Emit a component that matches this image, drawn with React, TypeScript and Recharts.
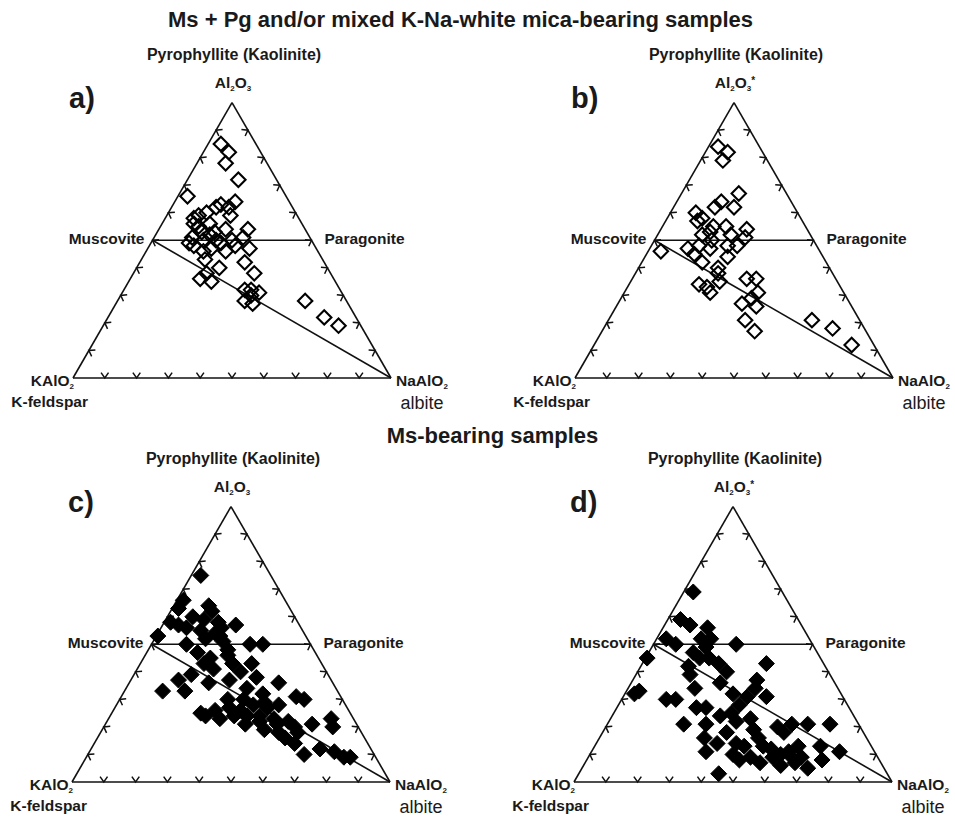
import React from 'react';
import { ScatterChart, Scatter, XAxis, YAxis, ReferenceLine, ReferenceDot } from 'recharts';

const FONT = '"Liberation Sans", Arial, Helvetica, sans-serif';

// Ternary compositions, [Al2O3 %, NaAlO2 %]; KAlO2 % = 100 - Al2O3 - NaAlO2
const panelA: [number, number][] = [
  [85, 4], [82, 8], [78, 9], [72, 16], [66, 3], [64, 19], [63, 15], [62, 14], [59, 20], [59, 10],
  [60, 12], [56, 10], [56, 15], [54, 21], [54, 28], [51, 28], [51, 12], [50, 16], [50, 20], [50, 25],
  [48, 14], [47, 20], [46, 25], [47, 32], [43, 20], [40, 26], [42, 33], [38, 38], [38, 23], [36, 22],
  [35, 26], [32, 38], [32, 40], [31, 43], [28, 40], [27, 43], [30, 41], [28, 59], [22, 68], [19, 74],
  [58, 9], [62, 18], [53, 14], [53, 18], [49, 12], [48, 27], [46, 18], [55, 12], [52, 17], [49, 22],
];
const panelB: [number, number][] = [
  [84, 3], [82, 7], [79, 7], [67, 18], [64, 14], [62, 13], [62, 19], [60, 8], [58, 11], [57, 10],
  [55, 16], [55, 20], [54, 27], [52, 23], [51, 28], [52, 14], [50, 18], [47, 12], [48, 15], [45, 15],
  [47, 19], [48, 24], [44, 26], [42, 19], [40, 25], [38, 26], [46, 4], [34, 22], [31, 27], [33, 25],
  [35, 28], [36, 36], [36, 39], [31, 42], [27, 39], [29, 41], [26, 44], [21, 43], [17, 48], [21, 64],
  [18, 72], [12, 81], [53, 16], [48, 27],
];
const panelC: [number, number][] = [
  [75, 3], [66, 2], [63, 2], [58, 2], [53, 0.5], [62, 13], [59, 12], [60, 8], [58, 17], [56, 8],
  [55, 13], [54, 18], [57, 23], [51, 22], [52, 16], [50, 11], [47, 16], [45, 21], [48, 25], [50, 31],
  [50, 35], [43, 35], [40, 33], [37, 15], [39, 18], [33, 19], [36, 25], [37, 31], [34, 38], [36, 47],
  [30, 34], [30, 39], [31, 55], [30, 58], [28, 51], [24, 30], [23, 35], [24, 39], [24, 43], [24, 47],
  [23, 52], [22, 57], [19, 51], [18, 56], [16, 59], [14, 63], [10, 68], [21, 65], [23, 70], [20, 72],
  [11, 77], [9, 81], [9, 83], [27, 48], [28, 43], [26, 32], [25, 28], [20, 60], [43, 29], [43, 20],
  [64, 11], [57, 5], [21, 44], [21, 54], [38, 39], [33, 12], [46, 26], [41, 24], [27, 36], [22, 48],
  [18, 62], [26, 40], [53, 20], [56, 19], [32, 44], [29, 46], [12, 72],
];
const panelD: [number, number][] = [
  [69, 3], [57, 8], [56, 14], [52, 14], [52, 17], [52, 3], [50, 7], [50, 26], [49, 17], [45, 0.5],
  [45, 20], [43, 24], [43, 39], [42, 15], [39, 17], [33, 4], [32, 3], [34, 21], [40, 28], [37, 39],
  [34, 40], [32, 34], [30, 14], [30, 17], [31, 39], [31, 45], [27, 28], [24, 34], [21, 24], [21, 31],
  [22, 40], [23, 44], [21, 58], [21, 63], [21, 70], [18, 57], [13, 71], [11, 78], [16, 33], [14, 38],
  [11, 36], [10, 45], [13, 47], [9, 51], [13, 53], [9, 58], [10, 60], [9, 64], [9, 67], [5, 71],
  [13, 64], [3, 44], [8, 48], [16, 50], [18, 39], [59, 4], [36, 28], [8, 74], [20, 54], [27, 25],
  [28, 38], [7, 55], [11, 62], [6, 62], [14, 44], [19, 47], [25, 37], [45, 17], [47, 14], [12, 56],
  [7, 66],
];

const TICKS = [10, 20, 30, 40, 50, 60, 70, 80, 90];
const MICA_AL = 50; // muscovite / paragonite: 50 % Al2O3

const TITLE_1 = 'Ms + Pg and/or mixed K-Na-white mica-bearing samples';
const TITLE_2 = 'Ms-bearing samples';

const SIN60 = Math.sqrt(3) / 2;
const toXY = (al: number, na: number) => ({ x: na + al / 2, y: al * SIN60 });

const S = 3.18; // px per % unit

const NORMALS: Record<string, [number, number]> = {
  bottom: [0, -1],
  left: [0.866, 0.5],
  right: [-0.866, 0.5],
};

const tickShape = (p: any) => {
  const { cx, cy, payload } = p;
  if (cx == null || cy == null) return <g />;
  const [nx, ny] = NORMALS[payload.edge];
  const a = (35 * Math.PI) / 180;
  const L = 6.5;
  const rot = (s: number) => [
    nx * Math.cos(s * a) - ny * Math.sin(s * a),
    nx * Math.sin(s * a) + ny * Math.cos(s * a),
  ];
  const [ax, ay] = rot(1);
  const [bx, by] = rot(-1);
  return (
    <path
      d={`M${cx + ax * L},${cy + ay * L}L${cx},${cy}L${cx + bx * L},${cy + by * L}`}
      fill="none"
      stroke="#111"
      strokeWidth={1.5}
    />
  );
};

const diamond = (filled: boolean) => (p: any) => {
  const { cx, cy } = p;
  if (cx == null || cy == null) return <g />;
  const r = filled ? 8 : 7.2;
  return (
    <path
      d={`M${cx},${cy - r}L${cx + r},${cy}L${cx},${cy + r}L${cx - r},${cy}Z`}
      fill={filled ? '#000' : 'none'}
      stroke="#000"
      strokeWidth={filled ? 1 : 2.1}
    />
  );
};

const bold = { fontFamily: FONT, fontWeight: 700, fill: '#1a1a1a' } as const;

const textAt = (dx: number, dy: number, content: React.ReactNode, extra: any = {}) => (p: any) => (
  <text x={p.cx + dx} y={p.cy + dy} {...bold} fontSize={15.5} {...extra}>
    {content}
  </text>
);

type PanelProps = {
  letter: string;
  data: [number, number][];
  filled: boolean;
  star: boolean;
  VX: number;
  VY: number;
  PL: number;
  PT: number;
  CW: number;
  CH: number;
};

function Panel({ letter, data, filled, star, VX, VY, PL, PT, CW, CH }: PanelProps) {
  const xmin = -(VX - PL) / S;
  const xmax = xmin + CW / S;
  const ymax = (VY - PT) / S;
  const ymin = ymax - CH / S;

  const pts = data.map(([al, na]) => ({ ...toXY(al, na), k: 100 - al - na }));
  const ticks = [
    ...TICKS.map((t) => ({ ...toXY(0, t), edge: 'bottom' })),
    ...TICKS.map((t) => ({ ...toXY(t, 0), edge: 'left' })),
    ...TICKS.map((t) => ({ ...toXY(t, 100 - t), edge: 'right' })),
  ];
  const K = toXY(0, 0);
  const Na = toXY(0, 100);
  const Al = toXY(100, 0);
  const Ms = toXY(MICA_AL, 0);
  const Pg = toXY(MICA_AL, 100 - MICA_AL);
  const sub = (s: string) => (
    <tspan fontSize={8} dy={3}>
      {s}
    </tspan>
  );
  const line = { stroke: '#111', strokeWidth: 1.6, ifOverflow: 'visible' as const };

  return (
    <div style={{ position: 'absolute', left: PL, top: PT, width: CW, height: CH }}>
      <ScatterChart width={CW} height={CH} margin={{ top: 0, right: 0, bottom: 0, left: 0 }}>
        <XAxis type="number" dataKey="x" domain={[xmin, xmax]} allowDataOverflow hide />
        <YAxis type="number" dataKey="y" domain={[ymin, ymax]} allowDataOverflow hide />
        <ReferenceLine segment={[K, Na]} {...line} />
        <ReferenceLine segment={[K, Al]} {...line} />
        <ReferenceLine segment={[Na, Al]} {...line} />
        <ReferenceLine segment={[Ms, Pg]} {...line} />
        <ReferenceLine segment={[Ms, Na]} {...line} />
        <Scatter data={ticks} shape={tickShape} isAnimationActive={false} />
        <Scatter data={pts} shape={diamond(filled)} isAnimationActive={false} />
        <ReferenceDot
          x={Al.x}
          y={Al.y}
          r={0}
          ifOverflow="visible"
          shape={(p: any) => (
            <g>
              <text x={p.cx + 2} y={p.cy - 43} {...bold} fontSize={16} textAnchor="middle">
                Pyrophyllite (Kaolinite)
              </text>
              <text x={p.cx + 1} y={p.cy - 15} {...bold} fontSize={15.5} textAnchor="middle">
                Al{sub('2')}
                <tspan dy={-3}>O</tspan>
                {sub('3')}
                {star ? (
                  <tspan dy={-7} fontSize={10}>
                    *
                  </tspan>
                ) : null}
              </text>
            </g>
          )}
        />
        <ReferenceDot
          x={K.x}
          y={K.y}
          r={0}
          ifOverflow="visible"
          shape={(p: any) => (
            <g>
              <text x={p.cx - 4} y={Math.round(p.cy) - 270} {...bold} fontSize={29}>
                {letter}
              </text>
              <text x={p.cx + 1} y={p.cy + 8} {...bold} fontSize={15.5} textAnchor="end">
                KAlO{sub('2')}
              </text>
              <text x={p.cx + 15} y={p.cy + 29} {...bold} fontSize={15.5} textAnchor="end">
                K-feldspar
              </text>
            </g>
          )}
        />
        <ReferenceDot
          x={Na.x}
          y={Na.y}
          r={0}
          ifOverflow="visible"
          shape={(p: any) => (
            <g>
              <text x={p.cx + 5} y={p.cy + 8} {...bold} fontSize={15.5}>
                NaAlO{sub('2')}
              </text>
              <text
                x={p.cx + 31}
                y={p.cy + 31}
                fontFamily={FONT}
                fontSize={18}
                fill="#1a1a1a"
                textAnchor="middle"
              >
                albite
              </text>
            </g>
          )}
        />
        <ReferenceDot
          x={Ms.x}
          y={Ms.y}
          r={0}
          ifOverflow="visible"
          shape={textAt(-8, 4, 'Muscovite', { textAnchor: 'end' })}
        />
        <ReferenceDot x={Pg.x} y={Pg.y} r={0} ifOverflow="visible" shape={textAt(13, 4, 'Paragonite')} />
      </ScatterChart>
    </div>
  );
}

const titleStyle: React.CSSProperties = {
  position: 'absolute',
  fontFamily: FONT,
  fontWeight: 700,
  fontSize: 22,
  lineHeight: '26px',
  color: '#1a1a1a',
  whiteSpace: 'nowrap',
};

export default function App() {
  return (
    <div style={{ position: 'absolute', left: 0, top: 0, width: 955, height: 817, background: '#fff' }}>
      <Panel letter="a)" data={panelA} filled={false} star={false} VX={73} VY={378} PL={0} PT={0} CW={478} CH={420} />
      <Panel letter="b)" data={panelB} filled={false} star={true} VX={575} VY={378} PL={478} PT={0} CW={477} CH={420} />
      <Panel letter="c)" data={panelC} filled={true} star={false} VX={72} VY={782} PL={0} PT={420} CW={478} CH={397} />
      <Panel letter="d)" data={panelD} filled={true} star={true} VX={574} VY={782} PL={478} PT={420} CW={477} CH={397} />
      <div style={{ ...titleStyle, left: 0, width: 955, textAlign: 'center', top: 7 }}>
        <span style={{ position: 'relative', left: -17 }}>{TITLE_1}</span>
      </div>
      <div style={{ ...titleStyle, left: 0, width: 955, textAlign: 'center', top: 423 }}>
        <span style={{ position: 'relative', left: 15 }}>{TITLE_2}</span>
      </div>
    </div>
  );
}
